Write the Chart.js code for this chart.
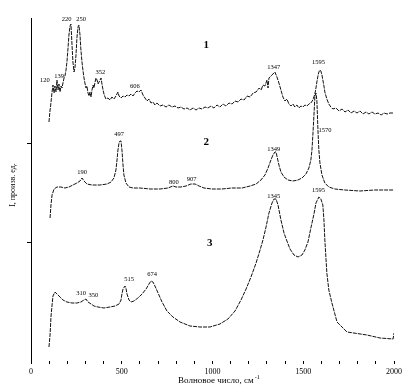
<!DOCTYPE html>
<html>
<head>
<meta charset="utf-8">
<script src="https://cdn.jsdelivr.net/npm/chart.js@4.4.1/dist/chart.umd.min.js"></script>
<style>
  html, body { margin: 0; padding: 0; background: #fff; }
  #wrap { width: 414px; height: 388px; }
</style>
</head>
<body>
<div id="wrap"><canvas id="raman"></canvas></div>
<script>
// Raman spectra, wavenumber (cm-1) / intensity (arb. units, stacked)
const wave1 = [99,105,107,116,121,127,132,138,143,149,154,160,165,171,176,182,187,193,198,204,209,215,220,226,231,237,242,248,253,259,264,270,275,281,286,292,297,303,308,314,320,325,331,336,342,347,353,358,364,369,375,386,391,397,402,408,413,424,435,446,457,468,479,485,496,507,518,529,540,551,562,573,584,595,606,617,628,639,650,661,672,683,694,711,727,744,760,777,793,810,826,843,860,876,893,909,926,942,959,975,992,1008,1025,1041,1058,1074,1091,1108,1124,1141,1157,1174,1190,1207,1224,1240,1257,1268,1278,1289,1300,1306,1311,1322,1333,1344,1355,1366,1377,1388,1399,1410,1421,1432,1443,1454,1465,1476,1487,1498,1509,1520,1531,1542,1553,1564,1570,1575,1581,1586,1592,1597,1603,1608,1614,1619,1630,1641,1652,1663,1680,1697,1714,1730,1747,1763,1780,1796,1813,1829,1846,1862,1879,1895,1912,1929,1945,1962,1978,1995];
const int1 = [239,251,253,269,276,268,275,269,281,271,277,269,275,273,278,283,285,291,299,313,326,335,337,316,299,289,293,306,323,334,336,326,311,299,291,283,278,273,275,268,265,269,264,271,276,273,279,283,281,277,279,283,277,271,267,264,262,263,261,264,262,265,269,265,263,265,264,266,265,267,265,268,270,269,271,266,263,260,262,258,259,256,258,255,256,254,256,254,255,253,254,252,253,251,253,251,253,252,254,253,255,253,256,254,257,255,258,257,260,259,262,261,265,264,268,269,273,271,276,275,281,273,283,285,287,289,284,278,271,264,260,262,257,255,257,254,256,253,255,254,256,255,257,258,261,267,273,279,285,289,291,290,286,281,275,269,262,257,254,252,253,250,252,249,251,248,250,248,250,247,249,247,249,247,248,246,248,247,248,248];

const wave2 = [105,110,116,127,143,165,187,209,231,253,270,281,292,308,336,380,419,441,457,468,474,479,485,490,496,501,507,512,523,540,562,600,656,711,755,782,799,826,854,881,904,926,953,997,1052,1107,1163,1207,1240,1267,1289,1306,1322,1333,1344,1350,1355,1366,1377,1394,1416,1443,1471,1493,1515,1531,1542,1548,1553,1559,1564,1570,1575,1581,1586,1592,1603,1619,1641,1674,1729,1812,1895,1995];
const int2 = [143,156,166,172,174,174,173,174,176,178,180,183,180,177,176,176,177,179,183,191,201,211,218,220,220,211,196,186,178,174,173,173,172,172,173,175,174,174,175,177,177,175,173,172,172,173,173,175,177,181,186,193,201,206,209,209,205,196,189,184,181,180,181,183,187,193,201,211,226,246,264,268,261,231,211,198,186,178,174,172,171,170,171,171];

const wave3 = [99,105,110,116,121,132,143,160,176,198,226,253,275,292,303,314,331,347,369,402,435,463,485,496,501,507,518,523,529,540,551,567,589,612,634,650,661,672,683,700,722,749,782,821,876,931,986,1041,1085,1124,1157,1185,1212,1240,1262,1278,1295,1311,1328,1339,1350,1361,1377,1394,1410,1427,1449,1471,1493,1509,1526,1542,1559,1570,1586,1597,1608,1614,1619,1625,1630,1641,1658,1686,1741,1851,1923,1995,2000];
const int3 = [14,26,44,56,65,69,67,64,61,59,58,58,59,61,62,59,57,55,54,53,54,55,57,61,67,72,75,73,67,61,59,60,63,67,72,77,80,79,75,68,59,50,44,39,35,34,34,37,42,50,61,72,84,98,111,121,134,148,158,162,162,156,141,128,120,112,106,104,106,111,119,133,147,158,164,162,156,141,121,103,88,71,58,39,29,26,23,22,28];

// peak labels: text, wavenumber, intensity of label
const peakText = ['120','139','220','250','352','606','1347','1595',
                  '190','497','800','907','1349','1570',
                  '310','350','515','674','1345','1595'];
const peakWave = [77,155,196,276,382,572,1337,1584,
                  281,485,787,885,1337,1620,
                  276,344,540,667,1337,1584];
const peakInt  = [281,285,342,342,289,275,294,299,
                  189,227,179,182,212,231,
                  68,66,82,87,165,171];

const seriesNames = ['1','2','3'];
const seriesWave = [965,965,985];
const seriesInt = [316,219,118];

const xTitle = 'Волновое число, см';
const yTitle = 'I, произв. ед.';

const toPts = (w, v) => w.map((x, i) => ({ x: x, y: v[i] }));

const textPlugin = {
    id: 'texts',
    afterDraw(chart) {
        const c = chart.ctx;
        const xs = chart.scales.x;
        const ys = chart.scales.y;
        c.save();
        c.fillStyle = '#000';
        c.textAlign = 'center';
        c.textBaseline = 'middle';

        // peak positions
        c.font = '6.5px "Liberation Serif"';
        peakText.forEach((t, i) => {
            c.fillText(t, xs.getPixelForValue(peakWave[i]), ys.getPixelForValue(peakInt[i]));
        });

        // curve numbers
        c.font = 'bold 11px "Liberation Serif"';
        seriesNames.forEach((t, i) => {
            c.fillText(t, xs.getPixelForValue(seriesWave[i]), ys.getPixelForValue(seriesInt[i]));
        });

        // axis titles
        c.font = '9px "Liberation Serif"';
        c.textAlign = 'left';
        const tx = 178, ty = 381;
        c.fillText(xTitle, tx, ty);
        const tw = c.measureText(xTitle).width;
        c.font = '6px "Liberation Serif"';
        c.fillText('-1', tx + tw + 1, ty - 4);

        c.font = '8px "Liberation Serif"';
        c.textAlign = 'center';
        c.translate(13, 185);
        c.rotate(-Math.PI / 2);
        c.fillText(yTitle, 0, 0);
        c.restore();
    }
};

const lineStyle = { borderColor: '#111', borderWidth: 1, borderDash: [4, 1], pointRadius: 0, tension: 0, fill: false };

new Chart(document.getElementById('raman'), {
    type: 'line',
    data: {
        datasets: [
            { label: '1', data: toPts(wave1, int1), ...lineStyle },
            { label: '2', data: toPts(wave2, int2), ...lineStyle },
            { label: '3', data: toPts(wave3, int3), ...lineStyle }
        ]
    },
    options: {
        responsive: true,
        maintainAspectRatio: false,
        animation: false,
        layout: { padding: { top: 18, right: 20, bottom: 0, left: 0 } },
        plugins: { legend: { display: false }, tooltip: { enabled: false } },
        scales: {
            x: {
                type: 'linear',
                min: 0,
                max: 2000,
                afterFit: s => { s.height = 27; },
                border: { display: false },
                grid: { drawOnChartArea: false, color: '#000', tickLength: 3 },
                ticks: {
                    stepSize: 100,
                    padding: 3,
                    maxRotation: 0,
                    autoSkip: false,
                    color: '#000',
                    font: { family: 'Liberation Serif', size: 8 },
                    callback: v => (v % 500 === 0 ? String(v) : '')
                }
            },
            y: {
                min: 0,
                max: 343,
                afterFit: s => { s.width = 31; },
                afterBuildTicks: s => { s.ticks = [{ value: 118 }, { value: 218 }]; },
                border: { display: true, color: '#000', width: 1 },
                grid: { drawOnChartArea: false, color: '#000', tickLength: 4 },
                ticks: { display: false }
            }
        }
    },
    plugins: [textPlugin]
});
</script>
</body>
</html>
